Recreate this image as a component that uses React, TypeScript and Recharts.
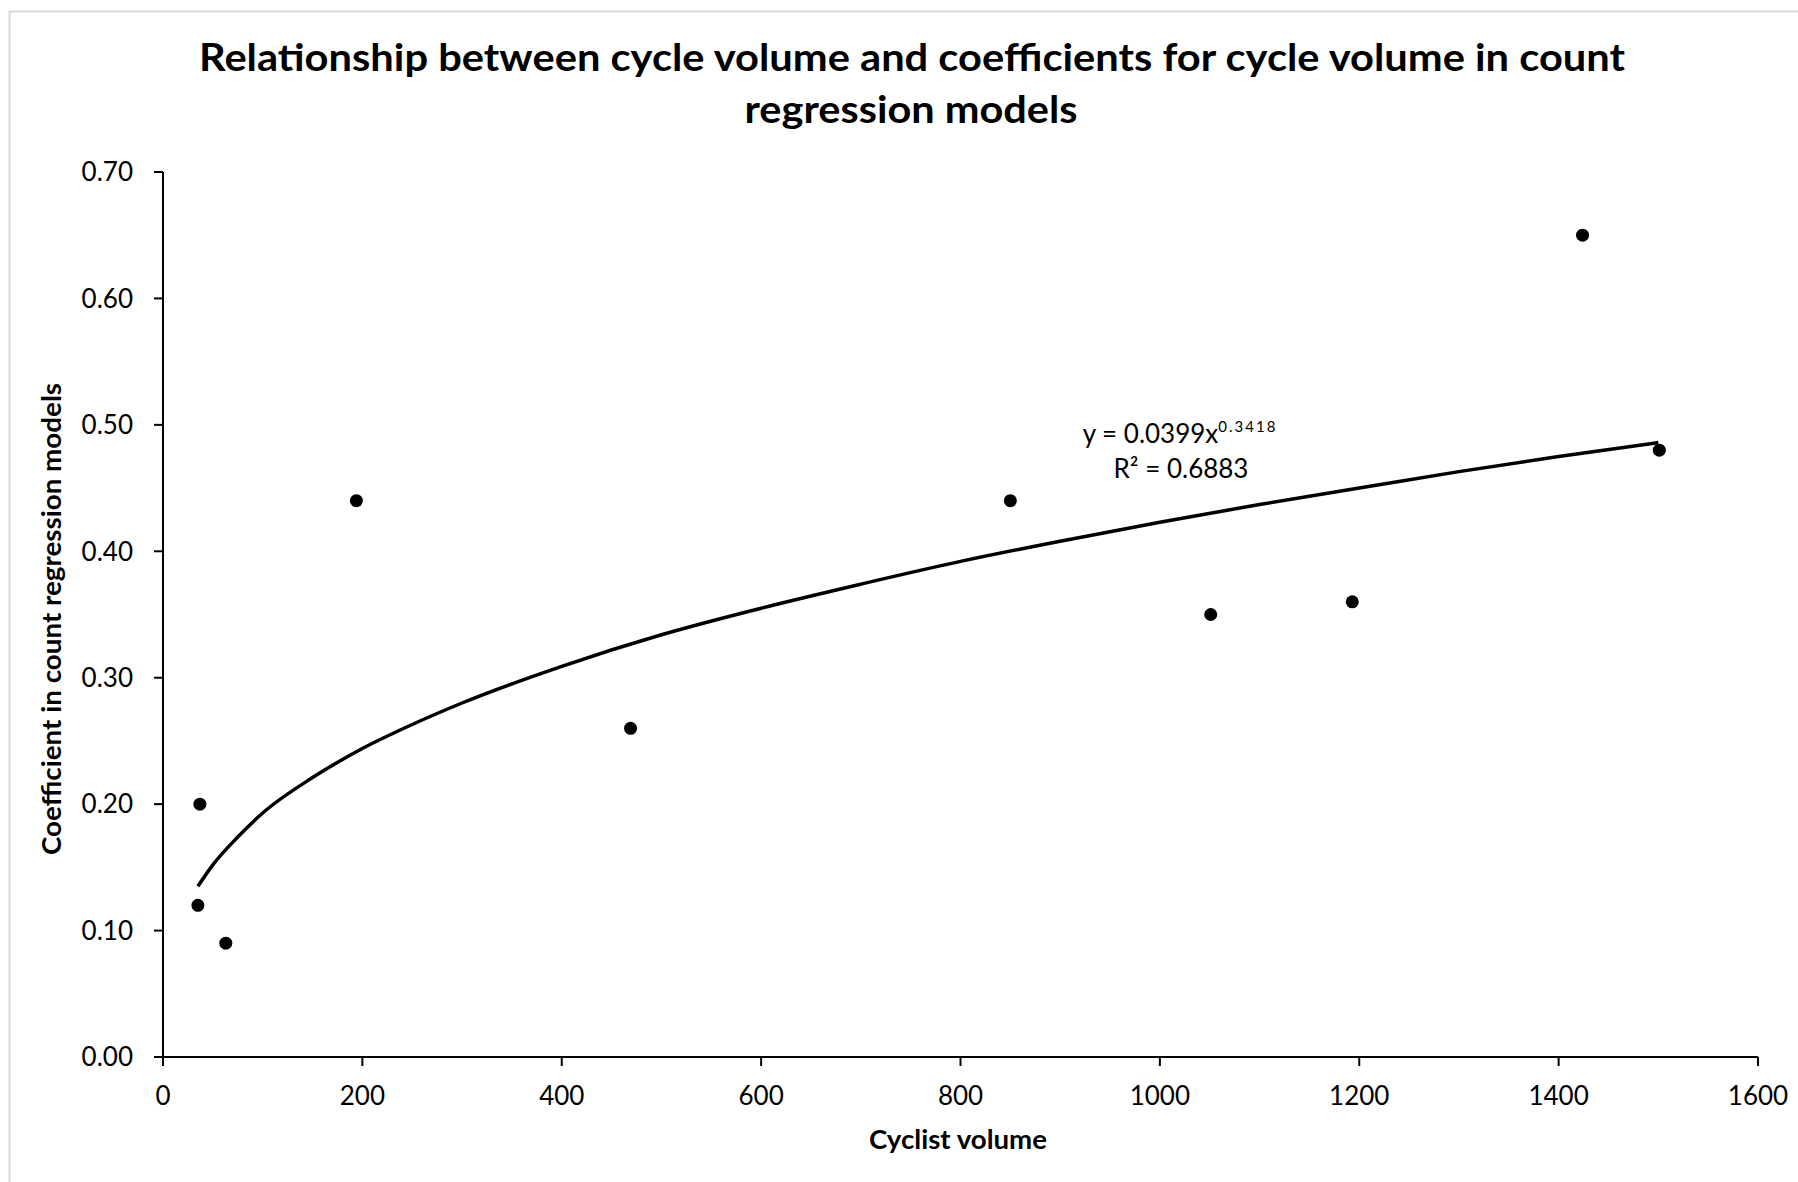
import React from 'react';
import { ComposedChart, Line, Scatter, XAxis, YAxis } from 'recharts';

// observed coefficients per site (cyclist volume, coefficient)
const cyclistVolume = [35, 37, 63, 194, 469, 850, 1051, 1193, 1424, 1501];
const coefficient = [0.12, 0.20, 0.09, 0.44, 0.26, 0.44, 0.35, 0.36, 0.65, 0.48];

// power trendline
const trendX = [35, 50, 75, 100, 150, 200, 250, 300, 400, 500, 600, 700, 800, 900, 1000, 1100, 1200, 1300, 1400, 1500];
const trendY = [0.135, 0.152, 0.174, 0.193, 0.221, 0.244, 0.263, 0.280, 0.309, 0.334, 0.355, 0.374, 0.392, 0.408, 0.423, 0.437, 0.450, 0.463, 0.475, 0.486];

const xTicks = [0, 200, 400, 600, 800, 1000, 1200, 1400, 1600];
const yTicks = [0, 0.1, 0.2, 0.3, 0.4, 0.5, 0.6, 0.7];

const titleLines = ['Relationship between cycle volume and coefficients for cycle volume in count', 'regression models'];
const xTitle = 'Cyclist volume';
const yTitle = 'Coefficient in count regression models';

const FONT = 'Lato, "Liberation Sans", sans-serif';

const points = cyclistVolume.map((x, i) => ({ x, y: coefficient[i] }));
const trend = trendX.map((x, i) => ({ x, y: trendY[i] }));

const Dot = (props: any) => <circle cx={props.cx} cy={props.cy} r={6.5} fill="#000" />;

export default function App() {
  const tick = { fill: '#000', fontSize: 26, fontFamily: FONT };
  return (
    <div style={{ position: 'absolute', left: 0, top: 0, width: 1798, height: 1182, background: '#fff' }}>
      <ComposedChart width={1798} height={1182} margin={{ top: 172, right: 40, bottom: 65, left: 63 }}>
        <XAxis
          dataKey="x"
          type="number"
          domain={[0, 1600]}
          ticks={xTicks}
          height={60}
          tick={tick}
          tickSize={9}
          tickMargin={21}
          axisLine={{ stroke: '#000', strokeWidth: 2 }}
          tickLine={{ stroke: '#000', strokeWidth: 2 }}
        />
        <YAxis
          type="number"
          domain={[0, 0.7]}
          ticks={yTicks}
          width={100}
          tick={tick}
          tickSize={9}
          tickMargin={21}
          tickFormatter={(v: number) => v.toFixed(2)}
          axisLine={{ stroke: '#000', strokeWidth: 2 }}
          tickLine={{ stroke: '#000', strokeWidth: 2 }}
        />
        <Line
          data={trend}
          dataKey="y"
          type="monotone"
          stroke="#000"
          strokeWidth={3.5}
          dot={false}
          activeDot={false}
          isAnimationActive={false}
        />
        <Scatter data={points} dataKey="y" shape={Dot} isAnimationActive={false} />
      </ComposedChart>
      <svg
        width={1798}
        height={1182}
        style={{ position: 'absolute', left: 0, top: 0, pointerEvents: 'none' }}
      >
        <rect x={9.5} y={11.5} width={1800} height={1200} fill="none" stroke="#d9d9d9" strokeWidth={2} />
        <text x={912} y={71} textAnchor="middle" fontFamily={FONT} fontWeight="bold" fontSize={38} fill="#000"
          textLength={1426} lengthAdjust="spacingAndGlyphs">
          {titleLines[0]}
        </text>
        <text x={911} y={123} textAnchor="middle" fontFamily={FONT} fontWeight="bold" fontSize={38} fill="#000"
          textLength={333} lengthAdjust="spacingAndGlyphs">
          {titleLines[1]}
        </text>
        <text x={958} y={1149} textAnchor="middle" fontFamily={FONT} fontWeight="bold" fontSize={27} fill="#000"
          textLength={178} lengthAdjust="spacingAndGlyphs">
          {xTitle}
        </text>
        <text x={61} y={619} textAnchor="middle" fontFamily={FONT} fontWeight="bold" fontSize={26} fill="#000"
          transform="rotate(-90, 61, 619)" textLength={472} lengthAdjust="spacingAndGlyphs">
          {yTitle}
        </text>
        <text x={1180} y={443} textAnchor="middle" fontFamily={FONT} fontSize={26} fill="#000">
          y = 0.0399x
          <tspan dy={-11} fontSize={15} letterSpacing={2}>0.3418</tspan>
        </text>
        <text x={1181} y={478} textAnchor="middle" fontFamily={FONT} fontSize={26} fill="#000">
          R² = 0.6883
        </text>
      </svg>
    </div>
  );
}
